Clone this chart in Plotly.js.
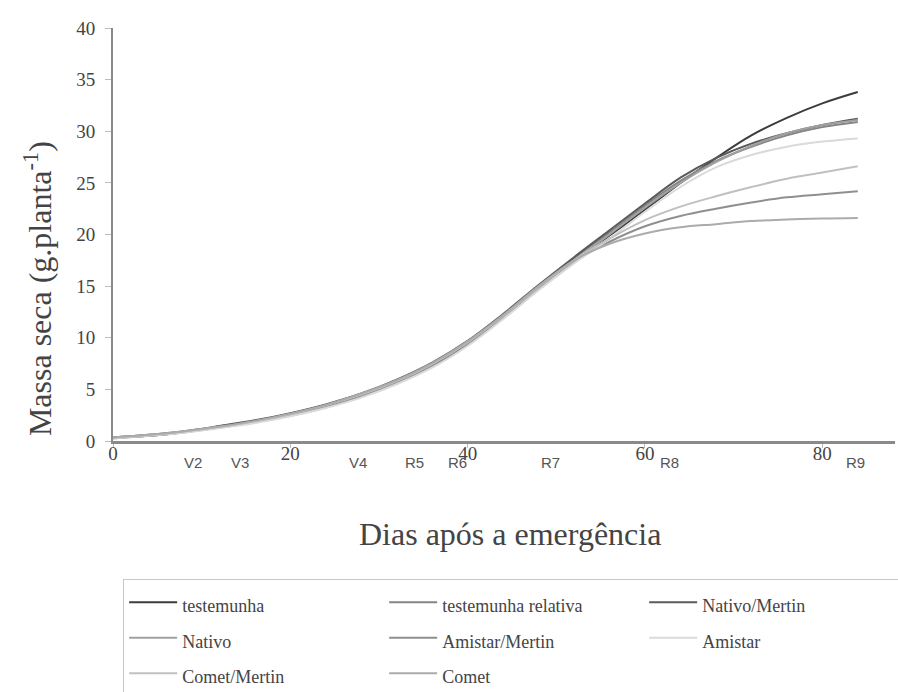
<!DOCTYPE html>
<html>
<head>
<meta charset="utf-8">
<script src="https://cdn.plot.ly/plotly-3.0.1.min.js"></script>
<style>html,body{margin:0;padding:0;background:#fff;}#chart{width:898px;height:692px;}</style>
</head>
<body>
<div id="chart"></div>
<script>
// Days after emergence
const days = [0,4,8,12,16,20,24,28,32,36,40,44,48,52,56,60,64,68,72,76,80,84];

const testemunha        = [0.3,0.5,0.85,1.3,1.85,2.5,3.3,4.4,5.7,7.3,9.4,12.0,14.8,17.4,19.9,22.4,25.0,27.4,29.6,31.3,32.7,33.8];
const testemunhaRelativa= [0.3,0.55,0.9,1.4,1.95,2.65,3.5,4.55,5.85,7.5,9.6,12.2,15.0,17.7,20.2,22.8,25.2,27.1,28.5,29.6,30.4,30.9];
const nativoMertin      = [0.35,0.6,0.95,1.45,2.0,2.7,3.55,4.6,5.95,7.6,9.7,12.3,15.1,17.8,20.4,23.0,25.5,27.4,28.8,29.8,30.6,31.2];
const nativo            = [0.25,0.5,0.85,1.3,1.8,2.45,3.25,4.3,5.6,7.2,9.3,11.9,14.7,17.4,20.0,22.6,25.0,27.0,28.6,29.8,30.6,31.1];
const amistarMertin     = [0.3,0.5,0.85,1.3,1.85,2.55,3.4,4.45,5.75,7.4,9.5,12.1,14.9,17.4,19.3,20.8,21.8,22.5,23.1,23.6,23.9,24.2];
const amistar           = [0.25,0.5,0.8,1.25,1.75,2.4,3.2,4.2,5.5,7.1,9.2,11.8,14.6,17.2,19.6,22.2,24.6,26.5,27.7,28.5,29.0,29.3];
const cometMertin       = [0.3,0.55,0.9,1.35,1.9,2.6,3.45,4.5,5.8,7.45,9.55,12.1,14.9,17.5,19.6,21.4,22.7,23.7,24.6,25.4,26.0,26.6];
const comet             = [0.35,0.6,0.95,1.4,1.95,2.65,3.5,4.6,5.9,7.55,9.65,12.2,15.0,17.5,19.1,20.1,20.7,21.0,21.3,21.45,21.55,21.6];

const seriesNames = ["testemunha","testemunha relativa","Nativo/Mertin","Nativo","Amistar/Mertin","Amistar","Comet/Mertin","Comet"];
const seriesValues = [testemunha,testemunhaRelativa,nativoMertin,nativo,amistarMertin,amistar,cometMertin,comet];
const seriesColors = ["#3c3c3c","#858585","#5a5a5a","#a0a0a0","#8f8f8f","#dadada","#c0c0c0","#ababab"];

// Phenological stage labels on the x axis
const stageLabels = ["V2","V3","V4","R5","R6","R7","R8","R9"];
const stageDays   = [9.0,14.3,27.6,34.0,38.9,49.4,62.8,83.8];

const xTicks = [0,20,40,60,80];
const yTicks = [0,5,10,15,20,25,30,35,40];

const serif = "Liberation Serif, Times New Roman, serif";

const traces = seriesNames.map((n,i)=>({
  x: days, y: seriesValues[i],
  name: '<span style="font-size:18px">' + n + '</span>',
  type: "scatter", mode: "lines",
  line: {color: seriesColors[i], width: 2, shape: "spline"}
}));

const annotations = stageLabels.map((s,i)=>({
  x: stageDays[i], xref: "x", y: -0.051, yref: "paper", text: s, showarrow: false,
  font: {family: "Liberation Sans, Arial, sans-serif", size: 15, color: "#555"},
  xanchor: "center", yanchor: "middle"
}));
annotations.push({
  x: -0.096, xref: "paper", y: 0.37, yref: "paper", textangle: -90, showarrow: false,
  text: "Massa seca (g.planta<sup>-1</sup>)",
  font: {family: serif, size: 32, color: "#444"}, xanchor: "center", yanchor: "middle"
});
annotations.push({
  x: 0.5077, xref: "paper", y: -0.225, yref: "paper", showarrow: false,
  text: "Dias após a emergência",
  font: {family: serif, size: 32, color: "#444"}, xanchor: "center", yanchor: "middle"
});

const layout = {
  width: 898, height: 692,
  margin: {l: 113, r: 3, t: 28, b: 251, autoexpand: false},
  paper_bgcolor: "#fff", plot_bgcolor: "#fff",
  showlegend: true,
  legend: {
    orientation: "h", x: 0.013, xanchor: "left", y: -0.333, yanchor: "top",
    font: {family: serif, size: 25, color: "#444"},
    bordercolor: "#c8c8c8", borderwidth: 1, bgcolor: "#fff",
    entrywidth: 197, entrywidthmode: "pixels", itemwidth: 48,
    traceorder: "normal"
  },
  xaxis: {
    range: [0, 88.2], tickvals: xTicks, ticktext: xTicks.map(String),
    showgrid: false, zeroline: false, showline: true, linecolor: "#8a8a8a", linewidth: 2.5,
    ticks: "outside", ticklen: 4, tickcolor: "#bbb", ticklabelstandoff: -10,
    tickfont: {family: serif, size: 19, color: "#444"}
  },
  yaxis: {
    range: [0, 40], tickvals: yTicks, ticktext: yTicks.map(String),
    showgrid: false, zeroline: false, showline: true, linecolor: "#8a8a8a", linewidth: 2,
    ticks: "outside", ticklen: 6, tickcolor: "#bbb", ticklabelstandoff: 6,
    tickfont: {family: serif, size: 19, color: "#444"}
  },
  annotations: annotations
};

Plotly.newPlot("chart", traces, layout, {displayModeBar: false, staticPlot: true});
</script>
</body>
</html>
